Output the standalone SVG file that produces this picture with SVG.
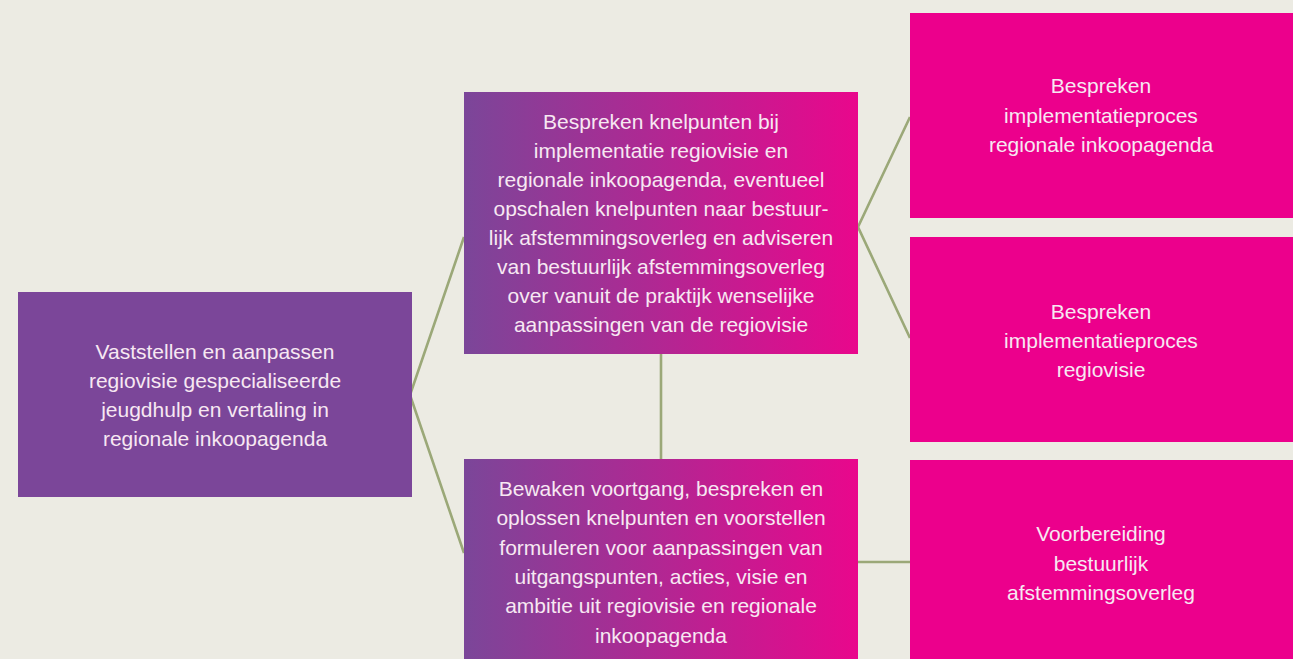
<svg xmlns="http://www.w3.org/2000/svg" width="1293" height="659" viewBox="0 0 1293 659">
<defs>
<linearGradient id="grad" x1="0" y1="0" x2="1" y2="0">
<stop offset="0" stop-color="#7b4699"/>
<stop offset="1" stop-color="#e9078c"/>
</linearGradient>
<style>
.bg{fill:#ecebe3}
.purple{fill:#7b4699}
.grad{fill:url(#grad)}
.mag{fill:#ec008c}
.conn{stroke:#9ba878;stroke-width:2.6;fill:none}
text{font-family:"Liberation Sans",Arial,sans-serif;font-size:21px;fill:#f7e8f2;text-anchor:middle}
</style>
</defs>
<rect class="bg" x="0" y="0" width="1293" height="659"/>
<g id="connectors">
<polyline class="conn" points="464,237 410,395 464,553"/>
<polyline class="conn" points="910,117 858,227 910,338"/>
<line class="conn" x1="661" y1="354" x2="661" y2="459"/>
<line class="conn" x1="858" y1="562" x2="910" y2="562"/>
</g>
<g id="n-left">
<rect class="purple" x="18" y="292" width="394" height="205"/>
<text x="215" y="359">Vaststellen en aanpassen</text>
<text x="215" y="388">regiovisie gespecialiseerde</text>
<text x="215" y="417">jeugdhulp en vertaling in</text>
<text x="215" y="446">regionale inkoopagenda</text>
</g>
<g id="n-mid-top">
<rect class="grad" x="464" y="92" width="394" height="262"/>
<text x="661" y="129">Bespreken knelpunten bij</text>
<text x="661" y="158">implementatie regiovisie en</text>
<text x="661" y="187">regionale inkoopagenda, eventueel</text>
<text x="661" y="216">opschalen knelpunten naar bestuur-</text>
<text x="661" y="245">lijk afstemmingsoverleg en adviseren</text>
<text x="661" y="274">van bestuurlijk afstemmingsoverleg</text>
<text x="661" y="303">over vanuit de praktijk wenselijke</text>
<text x="661" y="332">aanpassingen van de regiovisie</text>
</g>
<g id="n-mid-bottom">
<rect class="grad" x="464" y="459" width="394" height="200"/>
<text x="661" y="496">Bewaken voortgang, bespreken en</text>
<text x="661" y="525">oplossen knelpunten en voorstellen</text>
<text x="661" y="555">formuleren voor aanpassingen van</text>
<text x="661" y="584">uitgangspunten, acties, visie en</text>
<text x="661" y="613">ambitie uit regiovisie en regionale</text>
<text x="661" y="643">inkoopagenda</text>
</g>
<g id="n-right-1">
<rect class="mag" x="910" y="13" width="383" height="205"/>
<text x="1101" y="93">Bespreken</text>
<text x="1101" y="123">implementatieproces</text>
<text x="1101" y="152">regionale inkoopagenda</text>
</g>
<g id="n-right-2">
<rect class="mag" x="910" y="237" width="383" height="205"/>
<text x="1101" y="319">Bespreken</text>
<text x="1101" y="348">implementatieproces</text>
<text x="1101" y="377">regiovisie</text>
</g>
<g id="n-right-3">
<rect class="mag" x="910" y="460" width="383" height="199"/>
<text x="1101" y="541">Voorbereiding</text>
<text x="1101" y="571">bestuurlijk</text>
<text x="1101" y="600">afstemmingsoverleg</text>
</g>
</svg>
